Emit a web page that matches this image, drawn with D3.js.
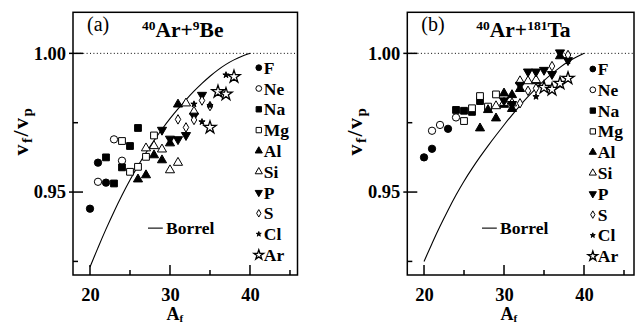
<!DOCTYPE html>
<html>
<head>
<meta charset="utf-8">
<script src="https://cdn.jsdelivr.net/npm/d3@7"></script>
<style>
  body { margin: 0; background: #fff; }
  svg { display: block; }
  text { font-family: "Liberation Serif", "Times New Roman", serif; fill: #000; }
</style>
</head>
<body>
<svg id="chart" width="641" height="324"></svg>
<script>
// Fragment velocities v_f/v_p vs fragment mass A_f
// -----------------

var species = ["F", "Ne", "Na", "Mg", "Al", "Si", "P", "S", "Cl", "Ar"];

var xMajor = [20, 30, 40];
var xMinor = [25, 35, 45];
var yMajor = [0.95, 1.00];
var yMinor = [0.925, 0.975];

// [species, A_f, v_f/v_p], 40Ar + 9Be
var beRows = [
  ["F", 20, 0.9440], ["F", 21, 0.9606], ["F", 22, 0.9534],
  ["Ne", 21, 0.9537], ["Ne", 23, 0.9690], ["Ne", 24, 0.9613],
  ["Na", 22, 0.9625], ["Na", 23, 0.9531], ["Na", 24, 0.9589], ["Na", 25, 0.9666], ["Na", 26, 0.9731],
  ["Mg", 24, 0.9684], ["Mg", 25, 0.9573], ["Mg", 26, 0.9591], ["Mg", 27, 0.9627], ["Mg", 28, 0.9704],
  ["Al", 26, 0.9546], ["Al", 27, 0.9561], ["Al", 28, 0.9633], ["Al", 29, 0.9615], ["Al", 30, 0.9676], ["Al", 31, 0.9816],
  ["Si", 27, 0.9658], ["Si", 28, 0.9666], ["Si", 29, 0.9654], ["Si", 30, 0.9579], ["Si", 31, 0.9606], ["Si", 32, 0.9820], ["Si", 33, 0.9790],
  ["P", 29, 0.9724], ["P", 30, 0.9692], ["P", 31, 0.9690], ["P", 32, 0.9705], ["P", 33, 0.9775], ["P", 34, 0.9850],
  ["S", 31, 0.9762], ["S", 32, 0.9733], ["S", 33, 0.9760], ["S", 34, 0.9830], ["S", 35, 0.9810],
  ["Cl", 33, 0.9817], ["Cl", 34, 0.9753], ["Cl", 35, 0.9812], ["Cl", 37, 0.9922],
  ["Ar", 35, 0.9733], ["Ar", 36, 0.9862], ["Ar", 37, 0.9853], ["Ar", 38, 0.9916]
];

// [species, A_f, v_f/v_p], 40Ar + 181Ta
var taRows = [
  ["F", 20, 0.9625], ["F", 21, 0.9656], ["F", 23, 0.9728],
  ["Ne", 21, 0.9721], ["Ne", 22, 0.9742], ["Ne", 24, 0.9769],
  ["Na", 24, 0.9796], ["Na", 25, 0.9793], ["Na", 26, 0.9789], ["Na", 27, 0.9828],
  ["Mg", 25, 0.9756], ["Mg", 26, 0.9802], ["Mg", 27, 0.9846], ["Mg", 28, 0.9808], ["Mg", 29, 0.9852],
  ["Al", 27, 0.9730], ["Al", 28, 0.9796], ["Al", 29, 0.9766], ["Al", 30, 0.9856], ["Al", 30, 0.9815],
  ["Al", 31, 0.9850], ["Al", 31, 0.9800], ["Al", 32, 0.9872], ["Al", 34, 0.9900], ["Al", 37, 0.9990],
  ["Si", 29, 0.9810], ["Si", 30, 0.9822], ["Si", 31, 0.9820], ["Si", 32, 0.9900], ["Si", 33, 0.9900], ["Si", 34, 0.9904],
  ["P", 30, 0.9830], ["P", 31, 0.9817], ["P", 32, 0.9886], ["P", 33, 0.9934], ["P", 34, 0.9934],
  ["P", 35, 0.9940], ["P", 36, 0.9925], ["P", 37, 1.0003], ["P", 38, 0.9975],
  ["S", 32, 0.9820], ["S", 33, 0.9865], ["S", 34, 0.9874], ["S", 36, 0.9954], ["S", 38, 0.9994],
  ["Cl", 34, 0.9844], ["Cl", 37, 0.9885], ["Cl", 38, 0.9972],
  ["Ar", 35, 0.9877], ["Ar", 36, 0.9870], ["Ar", 37, 0.9892], ["Ar", 38, 0.9910]
];

// Borrel systematics
var borrelA  = [20, 21, 22, 23, 24, 25, 26, 27, 28, 29, 30, 31, 32, 33, 34, 35, 36, 37, 38, 39, 40];
var borrelBe = [0.923, 0.930, 0.9367, 0.943, 0.9489, 0.9544, 0.9595, 0.9642, 0.9686, 0.9727, 0.9765,
                0.980, 0.9833, 0.9864, 0.9892, 0.9918, 0.9941, 0.9961, 0.9977, 0.9990, 1.000];
var borrelTa = [0.925, 0.9315, 0.9377, 0.9435, 0.949, 0.954, 0.9585, 0.9627, 0.9667, 0.9705, 0.9742,
                0.9778, 0.9812, 0.9844, 0.9874, 0.9902, 0.9927, 0.995, 0.997, 0.9987, 1.000];

// marker look per species (same order as species)
var markerType = [d3.symbolCircle, d3.symbolCircle, d3.symbolSquare, d3.symbolSquare,
                  d3.symbolTriangle, d3.symbolTriangle, d3.symbolTriangle, d3.symbolDiamond,
                  d3.symbolStar, d3.symbolStar];
var markerFill = [true, false, true, false, true, false, true, false, true, false];
var markerSize = [42, 42, 46, 46, 36, 36, 36, 26, 12, 48];

var svg = d3.select("#chart");

function markerAttrs(sel, scale) {
  sel.attr("d", function(d) {
      var i = species.indexOf(d[0]);
      return d3.symbol().type(markerType[i]).size(markerSize[i] * scale)();
    })
    .attr("fill", function(d) { return markerFill[species.indexOf(d[0])] ? "#000" : "#fff"; })
    .attr("stroke", "#000")
    .attr("stroke-width", function(d) { return d[0] === "Ar" ? 1.3 : 1; });
}

function drawPanel(opts) {
  var g = svg.append("g");

  var x = d3.scaleLinear().domain(opts.xDomain).range([opts.left, opts.right]);
  var y = d3.scaleLinear().domain([0.9201, 1.0148]).range([opts.bottom, opts.top]);

  // dotted reference at 1.00
  g.append("line")
    .attr("x1", opts.left).attr("x2", opts.right)
    .attr("y1", y(1)).attr("y2", y(1))
    .attr("stroke", "#000").attr("stroke-width", 1)
    .attr("stroke-dasharray", "1,2.4");

  // Borrel curve
  var line = d3.line()
    .x(function(d, i) { return x(borrelA[i]); })
    .y(function(d) { return y(d); })
    .curve(d3.curveBasis);

  g.append("path")
    .datum(opts.borrel)
    .attr("d", line)
    .attr("fill", "none")
    .attr("stroke", "#000")
    .attr("stroke-width", 1.1);

  // data points
  g.selectAll("path.pt")
    .data(opts.rows)
    .enter().append("path")
    .attr("class", "pt")
    .attr("transform", function(d) {
      var t = "translate(" + x(d[1]) + "," + y(d[2]) + ")";
      return d[0] === "P" ? t + " rotate(180)" : t;
    })
    .call(markerAttrs, 1);

  // frame
  g.append("rect")
    .attr("x", opts.left).attr("y", opts.top)
    .attr("width", opts.right - opts.left).attr("height", opts.bottom - opts.top)
    .attr("fill", "none").attr("stroke", "#000").attr("stroke-width", 1.5);

  // ticks, pointing inwards
  g.selectAll("line.xt")
    .data(xMajor.map(function(v) { return [v, 10]; }).concat(xMinor.map(function(v) { return [v, 5]; })))
    .enter().append("line")
    .attr("x1", function(d) { return x(d[0]); }).attr("x2", function(d) { return x(d[0]); })
    .attr("y1", opts.bottom).attr("y2", function(d) { return opts.bottom - d[1]; })
    .attr("stroke", "#000").attr("stroke-width", 1.5);

  g.selectAll("line.yt")
    .data(yMajor.map(function(v) { return [v, -4, 10]; }).concat(yMinor.map(function(v) { return [v, 0, 5]; })))
    .enter().append("line")
    .attr("x1", function(d) { return opts.left + d[1]; })
    .attr("x2", function(d) { return opts.left + d[2]; })
    .attr("y1", function(d) { return y(d[0]); }).attr("y2", function(d) { return y(d[0]); })
    .attr("stroke", "#000").attr("stroke-width", 1.5);

  // tick labels
  var xAxis = g.append("g")
    .attr("transform", "translate(0," + opts.bottom + ")")
    .call(d3.axisBottom(x).tickValues(xMajor).tickSize(0).tickPadding(13).tickFormat(d3.format("d")));
  var yAxis = g.append("g")
    .attr("transform", "translate(" + opts.left + ",0)")
    .call(d3.axisLeft(y).tickValues(yMajor).tickSize(0).tickPadding(7).tickFormat(d3.format(".2f")));
  [xAxis, yAxis].forEach(function(a) {
    a.select(".domain").remove();
    a.selectAll("text")
      .attr("font-family", "Liberation Serif, Times New Roman, serif")
      .attr("font-size", 18.5).attr("font-weight", "bold").attr("fill", "#000");
  });

  // axis titles
  var xt = g.append("text")
    .attr("x", x(30.6)).attr("y", 320)
    .attr("text-anchor", "middle")
    .attr("font-size", 18).attr("font-weight", "bold");
  xt.append("tspan").text("A");
  xt.append("tspan").attr("font-size", 11).attr("dy", 2).text("f");

  var yt = g.append("text")
    .attr("transform", "translate(" + (opts.left - 45) + "," + y(0.972) + ") rotate(-90)")
    .attr("text-anchor", "middle")
    .attr("font-size", 22).attr("font-weight", "bold")
    .attr("letter-spacing", 1.5);
  yt.append("tspan").text("v");
  yt.append("tspan").attr("font-size", 15).attr("dy", 4).text("f");
  yt.append("tspan").attr("dy", -4).text("/v");
  yt.append("tspan").attr("font-size", 15).attr("dy", 4).text("p");

  // panel tag and reaction
  g.append("text")
    .attr("x", opts.left + 14).attr("y", opts.top + 19)
    .attr("font-size", 20)
    .text(opts.tag);

  var rt = g.append("text")
    .attr("x", opts.left + opts.titleDx).attr("y", opts.top + 25)
    .attr("font-size", 21.5).attr("font-weight", "bold");
  rt.append("tspan").attr("font-size", 13.5).attr("dy", -7).text("40");
  rt.append("tspan").attr("dy", 7).text("Ar+");
  rt.append("tspan").attr("font-size", 13.5).attr("dy", -7).text(opts.targetMass);
  rt.append("tspan").attr("dy", 7).text(opts.target);

  // legend
  var lx = x(41.1);
  var ly0 = opts.legendTop;
  var legend = g.selectAll("g.leg")
    .data(species.map(function(s) { return [s]; }))
    .enter().append("g")
    .attr("transform", function(d, i) { return "translate(" + lx + "," + (ly0 + i * 20.8) + ")"; });

  legend.append("path")
    .attr("transform", function(d) { return d[0] === "P" ? "rotate(180)" : null; })
    .call(markerAttrs, 0.62);

  legend.append("text")
    .attr("x", 5).attr("y", 6)
    .attr("font-size", 17.5).attr("font-weight", "bold")
    .text(function(d) { return d[0]; });

  // Borrel key
  var by = y(0.937);
  g.append("line")
    .attr("x1", x(27.25)).attr("x2", x(29.1))
    .attr("y1", by).attr("y2", by)
    .attr("stroke", "#000").attr("stroke-width", 1.1);
  g.append("text")
    .attr("x", x(29.5)).attr("y", by + 6)
    .attr("font-size", 17.5).attr("font-weight", "bold")
    .text("Borrel");
}

drawPanel({
  left: 73, right: 297.5, top: 12.3, bottom: 275,
  xDomain: [17.875, 45.94],
  rows: beRows, borrel: borrelBe,
  tag: "(a)", titleDx: 69, targetMass: "9", target: "Be",
  legendTop: 67.7
});

drawPanel({
  left: 407.3, right: 634, top: 12.3, bottom: 275,
  xDomain: [17.91, 46.25],
  rows: taRows, borrel: borrelTa,
  tag: "(b)", titleDx: 69, targetMass: "181", target: "Ta",
  legendTop: 69
});
</script>
</body>
</html>
